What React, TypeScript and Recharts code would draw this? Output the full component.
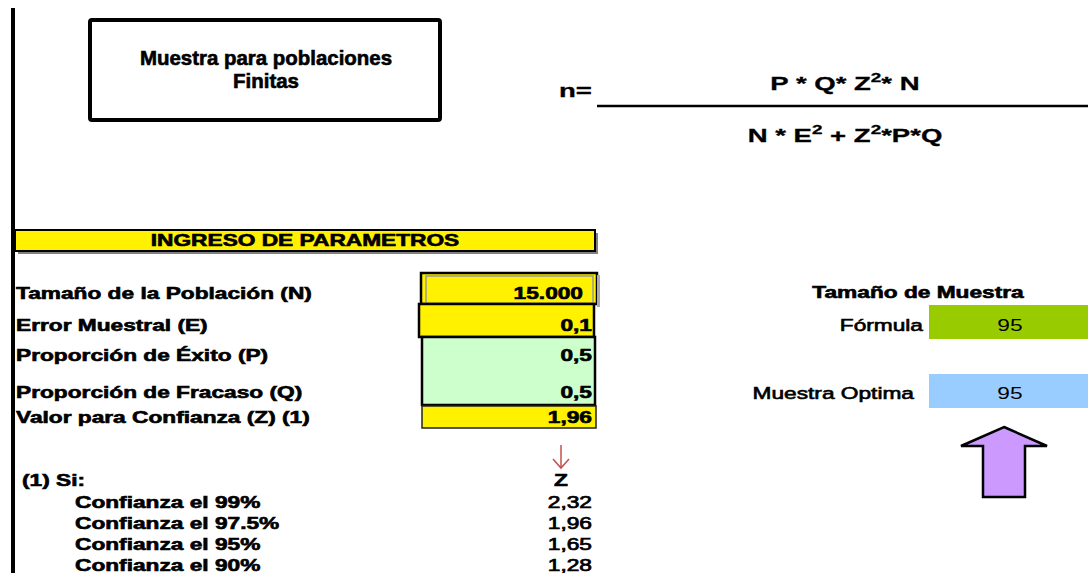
import { ComposedChart, Customized } from "recharts";

const ARIAL = "'Liberation Sans', Arial, sans-serif";
const SX = 1.42;

const titleLines = ["Muestra para poblaciones", "Finitas"];
const paramLabels = [
  "Tamaño de la Población (N)",
  "Error Muestral (E)",
  "Proporción de Éxito (P)",
  "Proporción de Fracaso (Q)",
  "Valor para Confianza (Z) (1)",
];
const paramValues = ["15.000", "0,1", "0,5", "0,5", "1,96"];
const paramBaselines = [299, 331, 361, 398, 423];
const confLabels = ["Confianza el 99%", "Confianza el 97.5%", "Confianza el 95%", "Confianza el 90%"];
const zValues = ["2,32", "1,96", "1,65", "1,28"];
const sampleLabels = ["Fórmula", "Muestra Optima"];
const sampleValues = [95, 95];

const YELLOW = "#FFF100";

function T({ x, y, children, size = 16, bold = true, anchor = "start", sx = SX, fill = "#000", heavy, len }: any) {
  const sw = heavy ?? (bold ? 0.6 : 0);
  return (
    <text
      transform={`translate(${x},${y}) scale(${sx},1)`}
      textAnchor={anchor}
      fontSize={size}
      fontWeight={bold ? 700 : 400}
      fontFamily={ARIAL}
      fill={fill}
      stroke={sw ? fill : "none"}
      strokeWidth={sw}
      textLength={len}
      lengthAdjust={len ? "spacingAndGlyphs" : undefined}
    >
      {children}
    </text>
  );
}

function Sheet() {
  return (
    <g>
      <rect x={0} y={0} width={1088} height={573} fill="#fff" />
      {/* left border line */}
      <rect x={11} y={8} width={4} height={565} fill="#000" />

      {/* title box */}
      <rect x={90} y={20} width={350} height={100} rx={2} fill="#fff" stroke="#000" strokeWidth={4} />
      <T x={266} y={65} size={20} sx={1} anchor="middle" len={252} heavy={0.6}>{titleLines[0]}</T>
      <T x={266} y={88} size={20} sx={1} anchor="middle" len={66} heavy={0.6}>{titleLines[1]}</T>

      {/* formula */}
      <T x={559} y={97} size={19} sx={1.45} heavy={0.3}>n=</T>
      <line x1={597} x2={1088} y1={106} y2={106} stroke="#000" strokeWidth={2.5} />
      <T x={845} y={90} size={19} sx={1.45} anchor="middle" heavy={0.3}>
        P * Q* Z<tspan dy={-8} fontSize={13}>2</tspan><tspan dy={8}>* N</tspan>
      </T>
      <T x={845} y={142} size={19} sx={1.45} anchor="middle" heavy={0.3}>
        N * E<tspan dy={-8} fontSize={13}>2</tspan><tspan dy={8}> + Z</tspan><tspan dy={-8} fontSize={13}>2</tspan><tspan dy={8}>*P*Q</tspan>
      </T>

      {/* INGRESO DE PARAMETROS bar */}
      <rect x={18} y={233} width={580} height={21} fill="#808080" />
      <rect x={15} y={230} width={580} height={21} fill={YELLOW} stroke="#000" strokeWidth={2} />
      <T x={305} y={246} anchor="middle">INGRESO DE PARAMETROS</T>

      {/* input cells */}
      <rect x={421} y={273} width={176} height={31} fill={YELLOW} stroke="#000" strokeWidth={2.5} />
      <rect x={426} y={276} width={167} height={32} fill="none" stroke="#999" strokeWidth={1.5} />
      <rect x={597} y={275} width={3} height={32} fill="#aaa" />
      <rect x={419} y={304} width={175} height={33} fill={YELLOW} stroke="#000" strokeWidth={2.5} />
      <rect x={422} y={337} width={173} height={68} fill="#CCFFCC" stroke="#000" strokeWidth={2.5} />
      <rect x={422} y={406} width={174} height={22} fill={YELLOW} stroke="#222" strokeWidth={1.5} />

      {paramLabels.map((l, i) => (
        <T key={l} x={16} y={paramBaselines[i]}>{l}</T>
      ))}
      {paramValues.map((v, i) => (
        <T key={i} x={i === 0 ? 583 : 592} y={paramBaselines[i]} anchor="end">{v}</T>
      ))}

      {/* sample size panel */}
      <T x={918} y={298} anchor="middle">Tamaño de Muestra</T>
      <rect x={929} y={305} width={159} height={34} fill="#99CC00" />
      <rect x={929} y={374} width={159} height={34} fill="#99CCFF" />
      <T x={923} y={331} anchor="end" bold={false} heavy={0.6}>{sampleLabels[0]}</T>
      <T x={914} y={399} anchor="end" bold={false} heavy={0.6}>{sampleLabels[1]}</T>
      <T x={1010} y={331} anchor="middle" bold={false}>{sampleValues[0]}</T>
      <T x={1010} y={399} anchor="middle" bold={false}>{sampleValues[1]}</T>

      {/* purple arrow */}
      <polygon
        points="1004,427 1047,446 1025,446 1025,497 983,497 983,446 961,446"
        fill="#CC99FF"
        stroke="#000"
        strokeWidth={2.5}
        strokeLinejoin="miter"
      />

      {/* Z table */}
      <line x1={561} x2={561} y1={445} y2={468} stroke="#C0504D" strokeWidth={1.5} />
      <polyline points="553,459 561,468 569,459" fill="none" stroke="#C0504D" strokeWidth={1.5} />
      <T x={22} y={486}>(1)  Si:</T>
      <T x={561} y={486} anchor="middle">Z</T>
      {confLabels.map((l, i) => (
        <T key={l} x={75} y={508 + i * 21}>{l}</T>
      ))}
      {zValues.map((v, i) => (
        <T key={i} x={592} y={508 + i * 21} anchor="end" bold={false} heavy={0.7}>{v}</T>
      ))}
    </g>
  );
}

export default function App() {
  return (
    <div style={{ position: "absolute", left: 0, top: 0, width: 1088, height: 573 }}>
      <ComposedChart width={1088} height={573} data={[]} margin={{ top: 0, right: 0, bottom: 0, left: 0 }}>
        <Customized component={Sheet} />
      </ComposedChart>
    </div>
  );
}
